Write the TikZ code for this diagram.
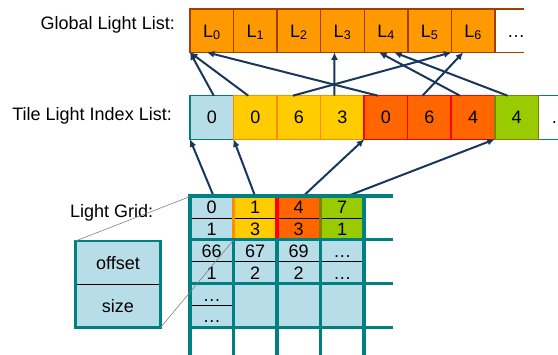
\documentclass[tikz,border=0pt]{standalone}
\usepackage{fontspec}
\setmainfont{Liberation Sans}
\usetikzlibrary{arrows.meta}
\definecolor{lblue}{RGB}{183,222,232}
\definecolor{gridteal}{RGB}{0,128,128}
\definecolor{lorange}{RGB}{255,153,0}
\definecolor{brownedge}{RGB}{160,64,0}
\definecolor{lyellow}{RGB}{255,204,0}
\definecolor{yedge}{RGB}{255,140,0}
\definecolor{lred}{RGB}{255,102,0}
\definecolor{redge}{RGB}{255,0,0}
\definecolor{lgreen}{RGB}{153,204,0}
\definecolor{gedge}{RGB}{128,128,0}
\definecolor{arrowblue}{RGB}{23,55,94}

\begin{document}
\begin{tikzpicture}[x=1pt,y=-1pt,
  cellfont/.style={font=\fontsize{18}{18}\selectfont,text height=12.9pt,text depth=0pt,inner sep=0pt,outer sep=0pt},
  gcell/.style={cellfont,draw=brownedge,fill=lorange,line width=1.5pt,minimum width=43.57pt,minimum height=43.3pt},
  tcell/.style={cellfont,line width=1.5pt,minimum width=43.54pt,minimum height=43.6pt},
  hcell/.style={cellfont,minimum width=43.5pt,minimum height=21.9pt},
  legcell/.style={cellfont,fill=lblue,minimum width=85pt,minimum height=43.3pt},
  lbl/.style={font=\fontsize{18}{18}\selectfont,inner sep=0pt},
  link/.style={draw=arrowblue,line width=2pt,-{Latex[length=7.5pt,width=7pt]}},
  gridline/.style={draw=gridteal,line width=3.3pt}]
\clip (0,0) rectangle (558,355);

\node[lbl,anchor=base east] (glbl) at (175,30) {Global Light List:};
\node[lbl,anchor=base east] (tlbl) at (172,121) {Tile Light Index List:};
\node[lbl,anchor=base west] (llbl) at (70,218) {Light Grid:};

\foreach \i in {0,...,6}
  \node[gcell] (g\i) at (211.79+43.57*\i,30.7) {L\textsubscript{\i}};
\draw[brownedge,line width=1.5pt] (g6.north east) -- ++(29,0) (g6.south east) -- ++(29,0);
\node[cellfont] (gdots) at (516,30.7) {…};

\node[tcell] (t8) at (211.77+43.54*8,117.5) {…};
\draw[gridteal,line width=1.5pt] (t8.north west) -- (t8.north east) (t8.south west) -- (t8.south east);
\foreach \i/\v/\f/\e in {0/0/lblue/gridteal,1/0/lyellow/yedge,2/6/lyellow/yedge,3/3/lyellow/yedge,
    4/0/lred/redge,5/6/lred/redge,6/4/lred/redge,7/4/lgreen/gedge}
  \node[tcell,fill=\f,draw=\e] (t\i) at (211.77+43.54*\i,117.5) {\v};

\draw[link] ([xshift=2pt]t0.north) -- (g0.south west);
\draw[link] ([xshift=-7pt]t1.north) -- (g0.south west);
\draw[link] ([xshift=-6pt]t2.north) -- (g6.south west);
\draw[link] ([xshift=-8pt]t3.north) -- ([xshift=-8pt]g3.south);
\draw[link] ([xshift=-8pt]t4.north) -- ([xshift=-5pt]g0.south);
\draw[link] ([xshift=-7pt]t5.north) -- ([xshift=-10pt]g6.south);
\draw[link] ([xshift=-13pt]t6.north) -- ([xshift=-7pt]g4.south);
\draw[link] ([xshift=-9pt]t7.north) -- ([xshift=8pt]g4.south);

\fill[lblue] (190,239.8) rectangle (364,327.4);
\foreach \i/\a/\b/\f in {0/0/1/lblue,1/1/3/lyellow,2/4/3/lred,3/7/1/lgreen}{
  \node[hcell,fill=\f] (ca\i) at (211.75+43.5*\i,207.5) {\a};
  \node[hcell,fill=\f] (cb\i) at (211.75+43.5*\i,229.2) {\b};
  \draw[line width=0.75pt] (ca\i.south west) -- (ca\i.south east);
}
\foreach \i/\a/\b in {0/66/1,1/67/2,2/69/2,3/…/…}{
  \node[hcell] (da\i) at (211.75+43.5*\i,250.8) {\a};
  \node[hcell] (db\i) at (211.75+43.5*\i,272.6) {\b};
  \draw[line width=0.75pt] (da\i.south west) -- (da\i.south east);
}
\node[hcell] (ea0) at (211.75,294.6) {…};
\node[hcell] (eb0) at (211.75,316.4) {…};
\draw[line width=0.75pt] (ea0.south west) -- (ea0.south east);

\draw[link] ([xshift=2pt]ca0.north) -- (t0.south west);
\draw[link] (ca1.north) -- (t1.south west);
\draw[link] ([xshift=4pt]ca2.north) -- (t4.south west);
\draw[link] ([xshift=4pt]ca3.north) -- (t7.south west);

\foreach \x in {190,233.5,277,320.5,364}
  \draw[gridline] (\x,196) -- (\x,360);
\foreach \i/\e in {1/yedge,2/redge,3/gedge}
  \draw[line width=3.3pt,\e] ([yshift=-1.6pt]ca\i.north west) -- ([yshift=1.6pt]cb\i.south west);
\foreach \y in {196,239.8,283.6,327.4}
  \draw[gridline] (188.35,\y) -- (393,\y);

\node[legcell] (lo) at (118,262.65) {offset};
\node[legcell] (ls) at (118,305.95) {size};
\draw[line width=0.75pt] (lo.south west) -- (lo.south east);
\draw[gridteal,line width=2.8pt] (lo.north west) rectangle (ls.south east);
\draw[gray,line width=0.6pt] (lo.north west) -- (ca0.north west);
\draw[gray,line width=0.6pt] (ls.south east) -- (cb0.south east);
\end{tikzpicture}
\end{document}
